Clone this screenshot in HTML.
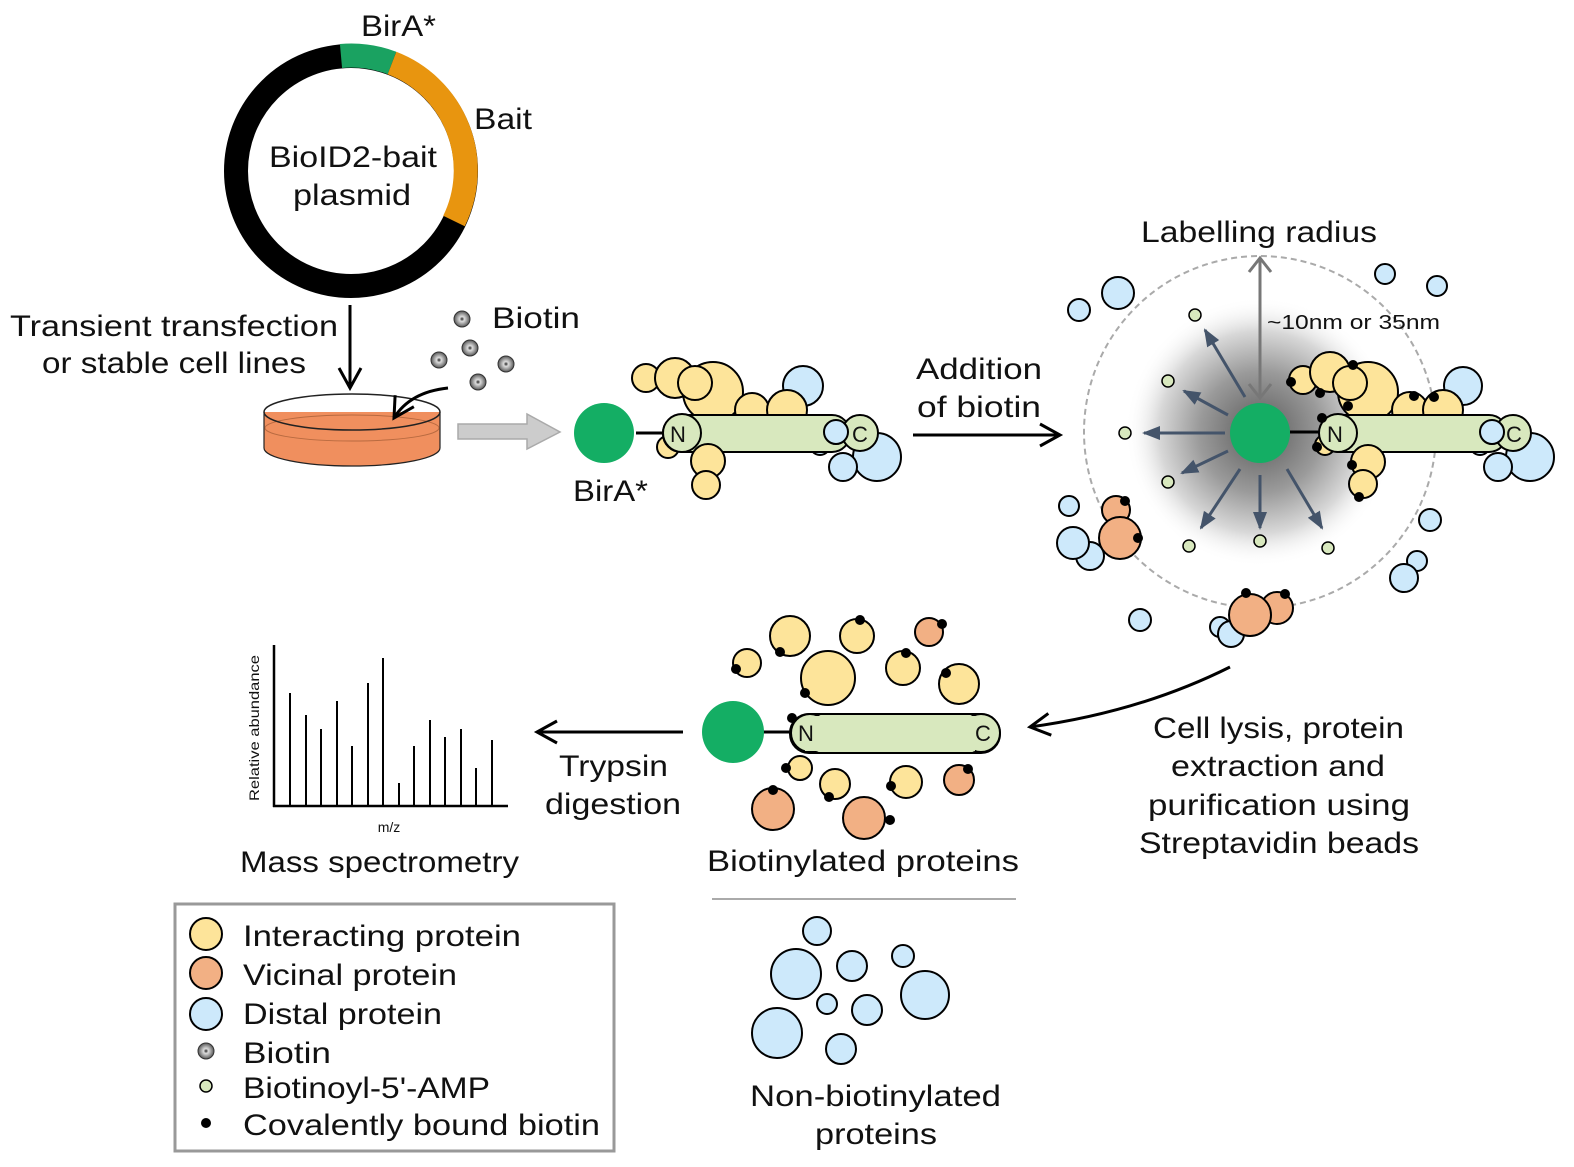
<!DOCTYPE html>
<html><head><meta charset="utf-8"><style>html,body{margin:0;padding:0;background:#fff}svg{display:block}text{font-family:"Liberation Sans",sans-serif;fill:#111}</style></head><body>
<svg width="1574" height="1167" viewBox="0 0 1574 1167" xmlns="http://www.w3.org/2000/svg">
<defs>
<radialGradient id="halo"><stop offset="0" stop-color="#5a5a5a"/><stop offset="0.45" stop-color="#9a9a9a"/><stop offset="0.75" stop-color="#d8d8d8"/><stop offset="1" stop-color="#fff" stop-opacity="0"/></radialGradient>
<radialGradient id="bt"><stop offset="0" stop-color="#222"/><stop offset="0.3" stop-color="#ddd"/><stop offset="0.75" stop-color="#888"/><stop offset="1" stop-color="#555"/></radialGradient>
<marker id="ahb" markerWidth="26" markerHeight="26" refX="22" refY="13" orient="auto" markerUnits="userSpaceOnUse"><path d="M2,2 L22,13 L2,24" fill="none" stroke="#000" stroke-width="3"/></marker>
<marker id="ahs" markerWidth="20" markerHeight="20" refX="16" refY="10" orient="auto" markerUnits="userSpaceOnUse"><path d="M0,3 L18,10 L0,17 Z" fill="#44546a"/></marker>
</defs>

<!-- plasmid -->
<circle cx="351" cy="171" r="115" fill="none" stroke="#000" stroke-width="24"/>
<path d="M341,56 A115,115 0 0 1 392,63" fill="none" stroke="#1aa261" stroke-width="24"/>
<path d="M392,63 A115,115 0 0 1 454,221" fill="none" stroke="#e8950f" stroke-width="24"/>
<text x="361" y="36" font-size="30" textLength="75" lengthAdjust="spacingAndGlyphs">BirA*</text>
<text x="474" y="129" font-size="30" textLength="58" lengthAdjust="spacingAndGlyphs">Bait</text>
<text x="269" y="167" font-size="30" textLength="168" lengthAdjust="spacingAndGlyphs">BioID2-bait</text>
<text x="293" y="205" font-size="30" textLength="118" lengthAdjust="spacingAndGlyphs">plasmid</text>

<text x="10" y="336" font-size="30" textLength="328" lengthAdjust="spacingAndGlyphs">Transient transfection</text>
<text x="42" y="373" font-size="30" textLength="264" lengthAdjust="spacingAndGlyphs">or stable cell lines</text>
<line x1="350" y1="305" x2="350" y2="388" stroke="#000" stroke-width="3" marker-end="url(#ahb)"/>

<!-- dish -->
<path d="M264,412 L264,448 A88,18 0 0 0 440,448 L440,412" fill="#f08f5e" stroke="#222" stroke-width="1.2"/>
<ellipse cx="352" cy="428" rx="87" ry="13" fill="#f08f5e" stroke="#b86a40" stroke-width="1"/>
<path d="M264,412 A88,18 0 0 1 440,412 A88,18 0 0 1 264,412" fill="none" stroke="#222" stroke-width="1.5"/>
<path d="M448,388 Q410,392 394,418" fill="none" stroke="#000" stroke-width="3" marker-end="url(#ahb)"/>

<!-- biotin -->
<g fill="url(#bt)" stroke="#333" stroke-width="1">
<circle cx="462" cy="319" r="8"/><circle cx="439" cy="360" r="8"/><circle cx="470" cy="348" r="8"/><circle cx="506" cy="364" r="8"/><circle cx="478" cy="382" r="8"/>
</g>
<text x="492" y="328" font-size="30" textLength="88" lengthAdjust="spacingAndGlyphs">Biotin</text>

<!-- gray block arrow -->
<path d="M458,424 L527,424 L527,414 L560,432 L527,449 L527,439 L458,439 Z" fill="#ccc" stroke="#aaa" stroke-width="1.5"/>

<!-- construct 1 -->
<g stroke="#000" stroke-width="2">
<circle cx="668" cy="447" r="11" fill="#fde49a"/>
<circle cx="820" cy="445" r="10" fill="#cde9fb"/>
<circle cx="803" cy="386" r="20" fill="#cde9fb"/>
<circle cx="877" cy="457" r="24" fill="#cde9fb"/>
<circle cx="646" cy="378" r="14" fill="#fde49a"/>
<circle cx="675" cy="378" r="20" fill="#fde49a"/>
<circle cx="713" cy="392" r="30" fill="#fde49a"/>
<circle cx="695" cy="383" r="17" fill="#fde49a"/>
<circle cx="752" cy="410" r="17" fill="#fde49a"/>
<circle cx="787" cy="410" r="20" fill="#fde49a"/>
<rect x="663" y="415" width="187" height="37" rx="18" fill="#d8e8be"/>
<circle cx="682" cy="433" r="19" fill="#d8e8be"/>
<circle cx="860" cy="433" r="18" fill="#d8e8be"/>
<circle cx="836" cy="432" r="12" fill="#cde9fb"/>
<circle cx="843" cy="467" r="14" fill="#cde9fb"/>
<circle cx="708" cy="461" r="17" fill="#fde49a"/>
<circle cx="706" cy="485" r="14" fill="#fde49a"/>
</g>
<line x1="636" y1="433" x2="663" y2="433" stroke="#000" stroke-width="3"/>
<circle cx="604" cy="433" r="30" fill="#14ae64"/>
<text x="678" y="442" font-size="22" text-anchor="middle">N</text>
<text x="860" y="442" font-size="22" text-anchor="middle">C</text>
<text x="573" y="501" font-size="30" textLength="75" lengthAdjust="spacingAndGlyphs">BirA*</text>

<!-- addition arrow -->
<text x="916" y="379" font-size="30" textLength="126" lengthAdjust="spacingAndGlyphs">Addition</text>
<text x="917" y="417" font-size="30" textLength="124" lengthAdjust="spacingAndGlyphs">of biotin</text>
<line x1="913" y1="435" x2="1060" y2="435" stroke="#000" stroke-width="3" marker-end="url(#ahb)"/>

<!-- labelling -->
<text x="1141" y="242" font-size="30" textLength="236" lengthAdjust="spacingAndGlyphs">Labelling radius</text>
<circle cx="1260" cy="432" r="135" fill="url(#halo)"/>
<circle cx="1260" cy="432" r="176" fill="none" stroke="#aaa" stroke-width="2" stroke-dasharray="6,4"/>
<line x1="1260" y1="258" x2="1260" y2="398" stroke="#777" stroke-width="3"/>
<path d="M1249,272 L1260,258 L1271,272" fill="none" stroke="#777" stroke-width="3"/>
<path d="M1249,384 L1260,398 L1271,384" fill="none" stroke="#777" stroke-width="3"/>
<text x="1267" y="329" font-size="20" textLength="173" lengthAdjust="spacingAndGlyphs">~10nm or 35nm</text>
<g stroke="#44546a" stroke-width="3" marker-end="url(#ahs)">
<line x1="1245" y1="397" x2="1205" y2="330"/>
<line x1="1228" y1="415" x2="1184" y2="391"/>
<line x1="1225" y1="433" x2="1144" y2="433"/>
<line x1="1228" y1="451" x2="1182" y2="473"/>
<line x1="1240" y1="469" x2="1201" y2="528"/>
<line x1="1260" y1="475" x2="1260" y2="528"/>
<line x1="1287" y1="469" x2="1322" y2="528"/>
</g>
<g fill="#d8e8be" stroke="#000" stroke-width="1.5">
<circle cx="1195" cy="315" r="6"/><circle cx="1168" cy="381" r="6"/><circle cx="1125" cy="433" r="6"/><circle cx="1168" cy="482" r="6"/><circle cx="1189" cy="546" r="6"/><circle cx="1260" cy="541" r="6"/><circle cx="1328" cy="548" r="6"/>
</g>
<g stroke="#000" stroke-width="2">
<circle cx="1079" cy="310" r="11" fill="#cde9fb"/><circle cx="1118" cy="293" r="16" fill="#cde9fb"/><circle cx="1385" cy="274" r="10" fill="#cde9fb"/><circle cx="1437" cy="286" r="10" fill="#cde9fb"/>
<circle cx="1069" cy="506" r="10" fill="#cde9fb"/><circle cx="1090" cy="556" r="14" fill="#cde9fb"/><circle cx="1073" cy="543" r="16" fill="#cde9fb"/>
<circle cx="1140" cy="620" r="11" fill="#cde9fb"/><circle cx="1430" cy="520" r="11" fill="#cde9fb"/><circle cx="1417" cy="561" r="10" fill="#cde9fb"/><circle cx="1404" cy="578" r="14" fill="#cde9fb"/>
<circle cx="1220" cy="627" r="10" fill="#cde9fb"/><circle cx="1231" cy="634" r="13" fill="#cde9fb"/>
<circle cx="1116" cy="510" r="14" fill="#f2b084"/><circle cx="1120" cy="538" r="21" fill="#f2b084"/>
<circle cx="1277" cy="608" r="16" fill="#f2b084"/><circle cx="1250" cy="615" r="21" fill="#f2b084"/>
<circle cx="1325" cy="445" r="10" fill="#fde49a"/>
<circle cx="1480" cy="445" r="10" fill="#cde9fb"/>
<circle cx="1463" cy="386" r="19" fill="#cde9fb"/>
<circle cx="1530" cy="457" r="24" fill="#cde9fb"/>
<circle cx="1303" cy="380" r="14" fill="#fde49a"/>
<circle cx="1330" cy="372" r="20" fill="#fde49a"/>
<circle cx="1368" cy="392" r="30" fill="#fde49a"/>
<circle cx="1350" cy="383" r="17" fill="#fde49a"/>
<circle cx="1410" cy="410" r="18" fill="#fde49a"/>
<circle cx="1443" cy="410" r="20" fill="#fde49a"/>
<rect x="1320" y="415" width="187" height="37" rx="18" fill="#d8e8be"/>
<circle cx="1338" cy="433" r="19" fill="#d8e8be"/>
<circle cx="1513" cy="433" r="18" fill="#d8e8be"/>
<circle cx="1492" cy="432" r="12" fill="#cde9fb"/>
<circle cx="1498" cy="467" r="14" fill="#cde9fb"/>
<circle cx="1368" cy="462" r="17" fill="#fde49a"/>
<circle cx="1363" cy="484" r="14" fill="#fde49a"/>
</g>
<g fill="#000">
<circle cx="1291" cy="382" r="5"/><circle cx="1320" cy="393" r="5"/><circle cx="1353" cy="365" r="5"/><circle cx="1348" cy="406" r="5"/><circle cx="1414" cy="396" r="5"/><circle cx="1434" cy="397" r="5"/><circle cx="1322" cy="418" r="5"/><circle cx="1317" cy="447" r="5"/><circle cx="1352" cy="465" r="5"/><circle cx="1359" cy="497" r="5"/>
<circle cx="1125" cy="501" r="5"/><circle cx="1138" cy="538" r="5"/><circle cx="1246" cy="593" r="5"/><circle cx="1285" cy="594" r="5"/>
</g>
<line x1="1290" y1="432" x2="1320" y2="432" stroke="#000" stroke-width="3"/>
<circle cx="1260" cy="433" r="30" fill="#14ae64"/>
<text x="1335" y="442" font-size="22" text-anchor="middle">N</text>
<text x="1514" y="442" font-size="22" text-anchor="middle">C</text>

<!-- lysis -->
<path d="M1230,667 Q1140,712 1030,727" fill="none" stroke="#000" stroke-width="3" marker-end="url(#ahb)"/>
<g font-size="30">
<text x="1153" y="738" textLength="251" lengthAdjust="spacingAndGlyphs">Cell lysis, protein</text>
<text x="1171" y="776" textLength="214" lengthAdjust="spacingAndGlyphs">extraction and</text>
<text x="1148" y="815" textLength="262" lengthAdjust="spacingAndGlyphs">purification using</text>
<text x="1139" y="853" textLength="280" lengthAdjust="spacingAndGlyphs">Streptavidin beads</text>
</g>

<!-- biotinylated -->
<g stroke="#000" stroke-width="2">
<circle cx="790" cy="636" r="20" fill="#fde49a"/><circle cx="747" cy="663" r="14" fill="#fde49a"/><circle cx="828" cy="678" r="27" fill="#fde49a"/><circle cx="857" cy="636" r="17" fill="#fde49a"/><circle cx="903" cy="668" r="17" fill="#fde49a"/><circle cx="959" cy="684" r="20" fill="#fde49a"/><circle cx="800" cy="768" r="12" fill="#fde49a"/><circle cx="835" cy="784" r="15" fill="#fde49a"/><circle cx="906" cy="782" r="16" fill="#fde49a"/>
<circle cx="929" cy="632" r="14" fill="#f2b084"/><circle cx="773" cy="809" r="21" fill="#f2b084"/><circle cx="864" cy="818" r="21" fill="#f2b084"/><circle cx="959" cy="780" r="15" fill="#f2b084"/>
<rect x="790" y="714" width="210" height="39" rx="19" fill="#d8e8be"/>
<circle cx="810" cy="733" r="19" fill="#d8e8be"/>
<circle cx="981" cy="733" r="19" fill="#d8e8be"/>
</g>
<rect x="805" y="716" width="170" height="35" fill="#d8e8be"/>
<g fill="#000">
<circle cx="780" cy="652" r="5"/><circle cx="736" cy="669" r="5"/><circle cx="805" cy="693" r="5"/><circle cx="860" cy="620" r="5"/><circle cx="906" cy="653" r="5"/><circle cx="946" cy="673" r="5"/><circle cx="786" cy="768" r="5"/><circle cx="829" cy="797" r="5"/><circle cx="891" cy="786" r="5"/>
<circle cx="942" cy="624" r="5"/><circle cx="773" cy="790" r="5"/><circle cx="890" cy="820" r="5"/><circle cx="968" cy="769" r="5"/><circle cx="792" cy="718" r="5"/>
</g>
<line x1="762" y1="732" x2="790" y2="732" stroke="#000" stroke-width="3"/>
<circle cx="733" cy="732" r="31" fill="#14ae64"/>
<text x="806" y="741" font-size="22" text-anchor="middle">N</text>
<text x="983" y="741" font-size="22" text-anchor="middle">C</text>
<text x="707" y="871" font-size="30" textLength="312" lengthAdjust="spacingAndGlyphs">Biotinylated proteins</text>
<line x1="712" y1="899" x2="1016" y2="899" stroke="#aaa" stroke-width="2"/>

<g fill="#cde9fb" stroke="#000" stroke-width="2">
<circle cx="817" cy="931" r="14"/><circle cx="796" cy="974" r="25"/><circle cx="852" cy="966" r="15"/><circle cx="903" cy="956" r="11"/><circle cx="925" cy="995" r="24"/><circle cx="827" cy="1004" r="10"/><circle cx="867" cy="1010" r="15"/><circle cx="777" cy="1033" r="25"/><circle cx="841" cy="1049" r="15"/>
</g>
<text x="750" y="1106" font-size="30" textLength="251" lengthAdjust="spacingAndGlyphs">Non-biotinylated</text>
<text x="815" y="1144" font-size="30" textLength="122" lengthAdjust="spacingAndGlyphs">proteins</text>

<!-- trypsin -->
<line x1="683" y1="732" x2="537" y2="732" stroke="#000" stroke-width="3" marker-end="url(#ahb)"/>
<text x="559" y="776" font-size="30" textLength="109" lengthAdjust="spacingAndGlyphs">Trypsin</text>
<text x="545" y="814" font-size="30" textLength="136" lengthAdjust="spacingAndGlyphs">digestion</text>

<!-- mass spec -->
<g stroke="#000" stroke-width="2.5">
<line x1="274" y1="645" x2="274" y2="807"/><line x1="273" y1="806" x2="508" y2="806"/>
</g>
<g stroke="#000" stroke-width="2">
<line x1="290" y1="806" x2="290" y2="693"/><line x1="306" y1="806" x2="306" y2="715"/><line x1="321" y1="806" x2="321" y2="729"/><line x1="337" y1="806" x2="337" y2="701"/><line x1="352" y1="806" x2="352" y2="746"/><line x1="368" y1="806" x2="368" y2="683"/><line x1="383" y1="806" x2="383" y2="658"/><line x1="399" y1="806" x2="399" y2="783"/><line x1="414" y1="806" x2="414" y2="746"/><line x1="430" y1="806" x2="430" y2="720"/><line x1="445" y1="806" x2="445" y2="737"/><line x1="461" y1="806" x2="461" y2="729"/><line x1="476" y1="806" x2="476" y2="768"/><line x1="492" y1="806" x2="492" y2="740"/>
</g>
<text transform="translate(259,728) rotate(-90)" font-size="14" text-anchor="middle" textLength="146" lengthAdjust="spacingAndGlyphs">Relative abundance</text>
<text x="389" y="832" font-size="14" text-anchor="middle">m/z</text>
<text x="240" y="872" font-size="30" textLength="279" lengthAdjust="spacingAndGlyphs">Mass spectrometry</text>

<!-- legend -->
<rect x="175" y="904" width="439" height="247" fill="none" stroke="#999" stroke-width="3"/>
<circle cx="206" cy="934" r="16" fill="#fde49a" stroke="#000" stroke-width="2"/>
<circle cx="206" cy="973" r="16" fill="#f2b084" stroke="#000" stroke-width="2"/>
<circle cx="206" cy="1014" r="16" fill="#cde9fb" stroke="#000" stroke-width="2"/>
<circle cx="206" cy="1051" r="8" fill="url(#bt)" stroke="#333" stroke-width="1"/>
<circle cx="206" cy="1086" r="6" fill="#d8e8be" stroke="#000" stroke-width="1.5"/>
<circle cx="206" cy="1123" r="5" fill="#000"/>
<g font-size="30">
<text x="243" y="946" textLength="278" lengthAdjust="spacingAndGlyphs">Interacting protein</text>
<text x="243" y="985" textLength="214" lengthAdjust="spacingAndGlyphs">Vicinal protein</text>
<text x="243" y="1024" textLength="199" lengthAdjust="spacingAndGlyphs">Distal protein</text>
<text x="243" y="1063" textLength="88" lengthAdjust="spacingAndGlyphs">Biotin</text>
<text x="243" y="1098" textLength="247" lengthAdjust="spacingAndGlyphs">Biotinoyl-5'-AMP</text>
<text x="243" y="1135" textLength="357" lengthAdjust="spacingAndGlyphs">Covalently bound biotin</text>
</g>
</svg>
</body></html>
